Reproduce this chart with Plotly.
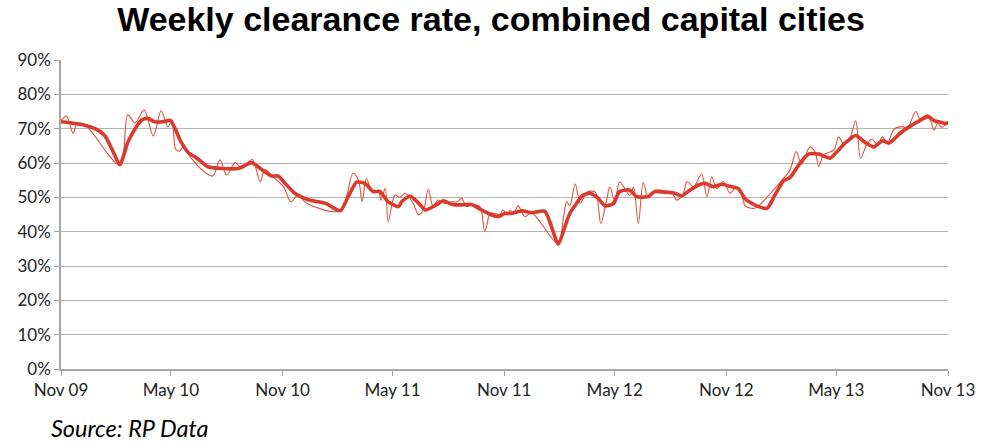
import plotly.graph_objects as go

# Weekly clearance rate (thin line) – dates and values (%)
weekly_dates = [
    "2009-11-01", "2009-11-10", "2009-11-21", "2009-11-27", "2009-12-10",
    "2010-02-06", "2010-02-19", "2010-03-03", "2010-03-18", "2010-04-02",
    "2010-04-15", "2010-04-26", "2010-05-03", "2010-05-09", "2010-05-16",
    "2010-05-20", "2010-06-01", "2010-06-18", "2010-07-09", "2010-07-21",
    "2010-08-01", "2010-08-15", "2010-08-26", "2010-09-12", "2010-09-25",
    "2010-10-03", "2010-10-19", "2010-11-02", "2010-11-15", "2010-11-26",
    "2010-12-11", "2011-02-04", "2011-02-25", "2011-03-06", "2011-03-12",
    "2011-03-19", "2011-03-28", "2011-04-08", "2011-04-12", "2011-04-19",
    "2011-04-24", "2011-05-05", "2011-05-13", "2011-05-22", "2011-06-04",
    "2011-06-13", "2011-06-21", "2011-06-29", "2011-07-07", "2011-07-15",
    "2011-07-26", "2011-08-06", "2011-08-15", "2011-08-23", "2011-08-31",
    "2011-09-09", "2011-09-22", "2011-09-30", "2011-10-09", "2011-10-17",
    "2011-10-25", "2011-10-30", "2011-11-06", "2011-11-11", "2011-11-16",
    "2011-11-24", "2011-12-05", "2011-12-16", "2012-01-29", "2012-02-06",
    "2012-02-12", "2012-02-17", "2012-02-26", "2012-03-05", "2012-03-10",
    "2012-03-16", "2012-03-30", "2012-04-08", "2012-04-18", "2012-04-23",
    "2012-05-01", "2012-05-09", "2012-05-18", "2012-05-26", "2012-06-01",
    "2012-06-09", "2012-06-17", "2012-06-25", "2012-07-09", "2012-07-20",
    "2012-08-03", "2012-08-11", "2012-08-22", "2012-08-28", "2012-09-08",
    "2012-09-21", "2012-09-30", "2012-10-08", "2012-10-16", "2012-10-27",
    "2012-11-07", "2012-11-17", "2012-11-25", "2012-12-02", "2012-12-12",
    "2012-12-20", "2013-02-03", "2013-02-14", "2013-02-24", "2013-03-05",
    "2013-03-18", "2013-03-27", "2013-04-02", "2013-04-10", "2013-04-27",
    "2013-05-05", "2013-05-13", "2013-05-24", "2013-06-02", "2013-06-10",
    "2013-06-21", "2013-06-29", "2013-07-08", "2013-07-16", "2013-07-24",
    "2013-08-04", "2013-08-18", "2013-08-26", "2013-09-09", "2013-09-17",
    "2013-10-01", "2013-10-09", "2013-10-15", "2013-10-22", "2013-10-30",
    "2013-11-03",
]
weekly_values = [
    72.3, 73.7, 68.6, 71.4, 71.2,
    59.4, 74.0, 71.7, 75.4, 67.9,
    75.2, 70.5, 72.5, 64.0, 63.5,
    64.5, 62.0, 58.5, 56.2, 60.9,
    56.5, 60.1, 58.5, 61.0, 54.6,
    58.0, 55.5, 53.2, 48.7, 50.7,
    48.2, 46.1, 57.0, 55.0, 48.7,
    55.5, 52.0, 51.7, 49.2, 52.6,
    42.9, 50.7, 50.0, 51.2, 48.3,
    44.9, 46.3, 52.3, 47.3, 49.2,
    48.2, 48.7, 48.7, 49.7, 47.3,
    47.8, 47.3, 40.0, 45.3, 45.3,
    45.0, 46.3, 45.0, 46.3, 45.0,
    47.5, 44.4, 45.5, 36.4, 43.4,
    48.7, 47.5, 53.9, 48.2, 49.5,
    51.5, 51.5, 42.4, 49.5, 53.1,
    49.0, 54.4, 52.5, 50.5, 53.0,
    42.4, 54.3, 50.2, 52.0, 52.0,
    51.4, 49.2, 51.0, 54.6, 53.1,
    56.8, 50.2, 56.0, 52.5, 54.6,
    51.2, 53.0, 51.5, 47.5, 46.8,
    47.0, 55.5, 58.0, 63.3, 59.6,
    64.6, 63.3, 59.0, 62.3, 63.8,
    67.6, 65.7, 67.6, 72.3, 61.4,
    65.7, 66.9, 65.2, 67.6, 65.7,
    69.8, 70.6, 70.1, 75.0, 72.5,
    73.0, 69.6, 71.5, 70.4, 71.5,
    72.0,
]

# Smoothed trend (thick line) – dates and values (%)
trend_dates = [
    "2009-11-01", "2009-11-24", "2009-12-10", "2009-12-27", "2010-01-12",
    "2010-01-24", "2010-02-06", "2010-02-19", "2010-03-03", "2010-03-14",
    "2010-03-24", "2010-04-04", "2010-04-18", "2010-04-30", "2010-05-08",
    "2010-05-16", "2010-05-30", "2010-06-13", "2010-07-01", "2010-07-24",
    "2010-08-20", "2010-09-11", "2010-09-28", "2010-10-14", "2010-10-25",
    "2010-11-05", "2010-11-21", "2010-12-13", "2011-01-10", "2011-02-04",
    "2011-02-17", "2011-03-03", "2011-03-17", "2011-03-30", "2011-04-10",
    "2011-04-24", "2011-05-11", "2011-05-16", "2011-05-30", "2011-06-13",
    "2011-06-24", "2011-07-10", "2011-07-24", "2011-08-06", "2011-08-20",
    "2011-09-08", "2011-09-25", "2011-10-06", "2011-10-22", "2011-11-02",
    "2011-11-13", "2011-11-30", "2011-12-16", "2012-01-07", "2012-01-29",
    "2012-02-09", "2012-02-17", "2012-02-28", "2012-03-08", "2012-03-21",
    "2012-04-04", "2012-04-15", "2012-04-29", "2012-05-09", "2012-05-26",
    "2012-06-06", "2012-06-25", "2012-07-06", "2012-07-23", "2012-08-08",
    "2012-08-19", "2012-09-02", "2012-09-16", "2012-09-27", "2012-10-10",
    "2012-10-24", "2012-11-07", "2012-11-21", "2012-12-02", "2012-12-21",
    "2013-01-07", "2013-01-20", "2013-02-03", "2013-02-14", "2013-03-02",
    "2013-03-16", "2013-04-02", "2013-04-21", "2013-05-02", "2013-05-18",
    "2013-06-02", "2013-06-16", "2013-07-02", "2013-07-16", "2013-07-27",
    "2013-08-15", "2013-09-03", "2013-09-17", "2013-09-28", "2013-10-09",
    "2013-10-20", "2013-10-28", "2013-11-03",
]
trend_values = [
    72.0, 71.5, 71.0, 70.0, 68.0,
    64.0, 59.5, 66.0, 70.0, 72.5,
    73.0, 72.0, 72.0, 72.4, 70.0,
    66.7, 63.0, 61.4, 58.9, 58.4,
    58.4, 60.1, 58.0, 56.2, 56.2,
    54.1, 51.2, 49.3, 48.3, 46.1,
    50.2, 54.4, 54.0, 51.7, 51.7,
    48.7, 47.3, 48.7, 50.4, 48.3,
    46.3, 47.6, 49.0, 48.0, 47.8,
    47.9, 46.3, 45.3, 44.4, 45.3,
    45.3, 46.1, 45.5, 45.9, 36.4,
    41.5, 45.3, 48.2, 50.4, 51.2,
    49.7, 47.5, 48.2, 51.7, 52.1,
    50.2, 50.2, 51.7, 51.5, 51.2,
    50.4, 52.1, 53.6, 54.1, 53.1,
    53.8, 53.2, 52.5, 49.5, 47.5,
    46.8, 50.7, 54.8, 55.8, 59.9,
    62.6, 62.6, 61.4, 63.3, 66.2,
    68.0, 66.2, 64.7, 66.5, 65.8,
    68.8, 71.1, 72.5, 73.7, 72.3,
    71.9, 71.5, 71.9,
]

tick_dates = ["2009-11-01", "2010-05-01", "2010-11-01", "2011-05-01", "2011-11-01",
              "2012-05-01", "2012-11-01", "2013-05-01", "2013-11-01"]
tick_labels = ["Nov 09", "May 10", "Nov 10", "May 11", "Nov 11",
               "May 12", "Nov 12", "May 13", "Nov 13"]
y_ticks = [0, 10, 20, 30, 40, 50, 60, 70, 80, 90]
y_labels = ["0%", "10%", "20%", "30%", "40%", "50%", "60%", "70%", "80%", "90%"]

RED = "#D93A2B"

fig = go.Figure()
fig.add_trace(go.Scatter(
    x=weekly_dates, y=weekly_values, mode="lines",
    line=dict(color="#E0523F", width=1.1, shape="spline", smoothing=0.9),
    showlegend=False, hoverinfo="skip",
))
fig.add_trace(go.Scatter(
    x=trend_dates, y=trend_values, mode="lines",
    line=dict(color=RED, width=3.6, shape="spline", smoothing=0.6),
    showlegend=False, hoverinfo="skip",
))

tick_font = dict(family="Lato, Open Sans, sans-serif", size=17, color="#222222")

fig.update_layout(
    width=987, height=444,
    margin=dict(l=61, r=39, t=60, b=75),
    paper_bgcolor="white", plot_bgcolor="white",
    title=dict(
        text="<b>Weekly clearance rate, combined capital cities</b>",
        font=dict(family="Liberation Sans, Arial, sans-serif", size=34, color="#000000"),
        x=0.4975, xanchor="center", xref="container",
        y=0.984, yanchor="top", yref="container",
    ),
    xaxis=dict(
        type="date",
        range=["2009-11-01", "2013-11-01"],
        tickmode="array", tickvals=tick_dates, ticktext=tick_labels,
        showgrid=False, zeroline=False,
        showline=True, linecolor="#A6A6A6", linewidth=1.5,
        ticks="outside", ticklen=5, tickcolor="#A6A6A6", tickwidth=1.2,
        tickfont=tick_font,
    ),
    yaxis=dict(
        range=[0, 90],
        tickmode="array", tickvals=y_ticks, ticktext=y_labels,
        showgrid=True, gridcolor="#B4B4B4", gridwidth=1.3,
        zeroline=False,
        showline=True, linecolor="#A6A6A6", linewidth=1.5,
        ticks="outside", ticklen=5, tickcolor="#A6A6A6", tickwidth=1.2,
        tickfont=tick_font,
    ),
    annotations=[dict(
        text="<i>Source: RP Data</i>", xref="paper", yref="paper",
        x=-0.014, y=-0.191, xanchor="left", yanchor="middle", showarrow=False,
        font=dict(family="Lato, Open Sans, sans-serif", size=23.5, color="#000000"),
    )],
)

fig.write_html("out.html",
               config={"displayModeBar": False},
               post_script="document.body.style.margin='0';")
